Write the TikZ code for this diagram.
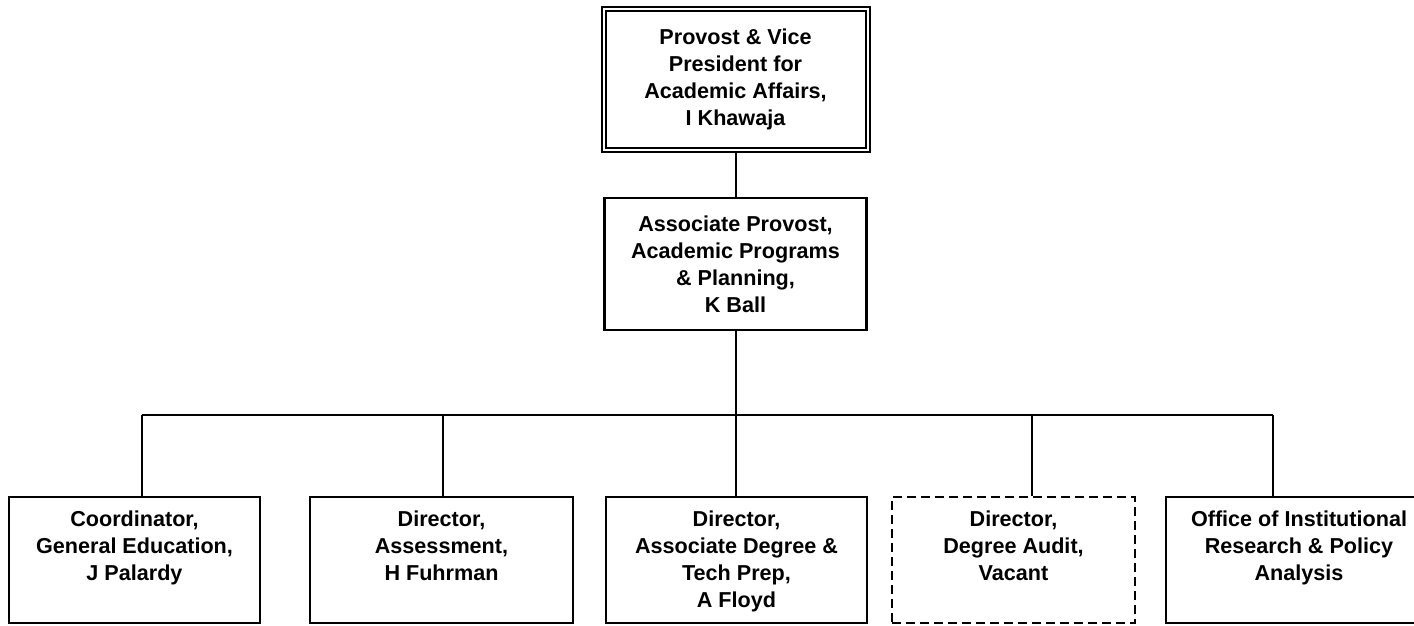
\documentclass[tikz,border=0pt]{standalone}
\usepackage{fontspec}
\setmainfont{Liberation Sans}
\usetikzlibrary{positioning}
\newcommand{\toplines}[1]{\begin{tabular}[t]{@{}c@{}}#1\end{tabular}}

\begin{document}
\begin{tikzpicture}[x=0.5pt,y=-0.5pt,
		box/.style={draw,line width=1.1pt,align=center,inner sep=0pt,
			font=\bfseries\fontsize{10.8}{13.5}\selectfont},
		head/.style={box,line width=1pt,double,double distance=1pt},
		unit/.style={box,anchor=north,text height=8pt,text depth=42pt,inner ysep=6.5pt},
		vacant/.style={unit,dash pattern=on 4.5pt off 2.5pt},
		wire/.style={line width=1pt}]
		\path[use as bounding box,clip] (0,0) rectangle (1414,626);
		\node[head,minimum width=132pt,minimum height=70.5pt](prov) at (735.5,79.5)
			{Provost \& Vice\\President for\\Academic Affairs,\\I Khawaja};
		\node[box,minimum width=131pt,minimum height=66pt](assoc) at (735.5,264)
			{Associate Provost,\\Academic Programs\\\& Planning,\\K Ball};
		\node[unit,minimum width=125.5pt](gened) at (134.5,496)
			{\toplines{Coordinator,\\General Education,\\J Palardy}};
		\node[unit,minimum width=131.5pt](assess) at (441.5,496)
			{\toplines{Director,\\Assessment,\\H Fuhrman}};
		\node[unit,minimum width=130.5pt](techprep) at (736.5,496)
			{\toplines{Director,\\Associate Degree \&\\Tech Prep,\\A Floyd}};
		\node[vacant,minimum width=121.5pt](audit) at (1013.5,496)
			{\toplines{Director,\\Degree Audit,\\Vacant}};
		\node[unit,minimum width=133pt](oirpa) at (1299,496)
			{\toplines{Office of Institutional\\Research \& Policy\\Analysis}};
		\coordinate (j1) at (142,415);
		\coordinate (j2) at (443,415);
		\coordinate (j3) at (735.5,415);
		\coordinate (j4) at (1032,415);
		\coordinate (j5) at (1273,415);
		\path[wire]
		(prov) edge (assoc)
		(assoc) edge (j3)
		(j1) edge (j5)
		(j1) edge (j1 |- gened.north)
		(j2) edge (j2 |- assess.north)
		(j3) edge (j3 |- techprep.north)
		(j4) edge (j4 |- audit.north)
		(j5) edge (j5 |- oirpa.north);
\end{tikzpicture}
\end{document}
